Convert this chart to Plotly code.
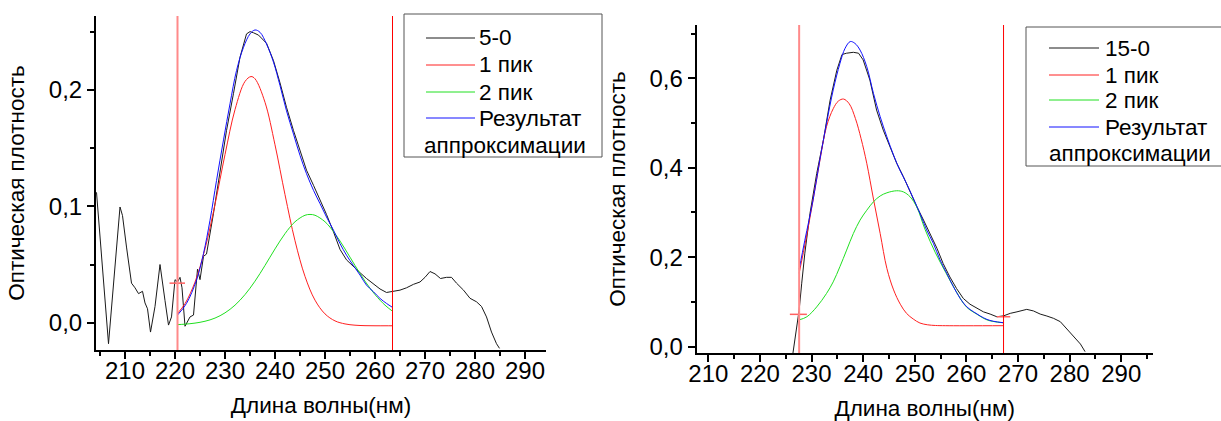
import plotly.graph_objects as go

FONT = "Arial, 'Liberation Sans', sans-serif"
W, H = 1221, 421
TICK_SIZE = 24
TEXT_SIZE = 22.5

# ---------------- sample 5-0 ----------------
wl_5 = [204.3, 206.7, 209.0, 209.5, 210.3, 211.3, 212.0, 212.7, 213.5, 214.0, 214.5, 215.1,
        216.0, 217.0, 218.0, 218.7, 219.3, 220.0, 220.5, 221.0, 221.4, 222.0, 223.0, 223.7,
        224.5, 225.0, 225.7, 226.3, 227.7, 229.0, 230.3, 231.7, 233.0, 234.3, 235.0, 235.7,
        236.7, 238.3, 239.7, 241.0, 242.3, 243.7, 245.0, 246.3, 247.7, 249.0, 250.3, 251.7,
        253.0, 254.3, 255.7, 257.0, 258.3, 259.7, 261.0, 262.3, 263.7, 265.0, 266.3, 267.7,
        269.0, 270.0, 271.0, 272.0, 273.1, 274.3, 275.3, 276.3, 277.7, 279.0, 280.3, 281.3,
        282.3, 283.3, 284.3, 284.9]
od_5 = [0.112, -0.018, 0.0994, 0.092, 0.065, 0.034, 0.030, 0.025, 0.027, 0.017, 0.012, -0.008,
        0.014, 0.050, 0.019, -0.002, 0.005, 0.037, 0.035, 0.039, 0.030, -0.003, 0.005, 0.0066,
        0.046, 0.037, 0.057, 0.059, 0.094, 0.131, 0.165, 0.197, 0.228, 0.248, 0.250, 0.249,
        0.247, 0.240, 0.225, 0.206, 0.185, 0.165, 0.147, 0.131, 0.118, 0.106, 0.093, 0.078,
        0.063, 0.054, 0.048, 0.043, 0.038, 0.033, 0.029, 0.026, 0.027, 0.028, 0.030, 0.033,
        0.035, 0.039, 0.044, 0.042, 0.038, 0.039, 0.039, 0.034, 0.028, 0.021, 0.018, 0.014,
        0.005, -0.008, -0.018, -0.022]

peak_wl_5 = [220.5, 222, 224, 226, 228, 230, 232, 234, 235.2, 236, 238, 240, 242, 244, 246,
             248, 250, 252, 254, 256, 258, 260, 262, 263.5]
peak1_5 = [0.0080, 0.0164, 0.0349, 0.0635, 0.1016, 0.1444, 0.1830, 0.2072, 0.2114, 0.2095,
           0.1893, 0.1528, 0.1100, 0.0704, 0.0398, 0.0194, 0.0076, 0.0016, -0.0010, -0.0021,
           -0.0025, -0.0026, -0.0026, -0.0026]

peak2_wl_5 = [220.5, 222, 224, 226, 228, 230, 232, 234, 236, 238, 240, 242, 244, 246, 247,
              248, 250, 252, 254, 256, 258, 260, 262, 263.5]
peak2_5 = [-0.0016, -0.0012, -0.0003, 0.0013, 0.0040, 0.0085, 0.0151, 0.0242, 0.0357, 0.0492,
           0.0634, 0.0765, 0.0867, 0.0923, 0.0930, 0.0923, 0.0867, 0.0765, 0.0634, 0.0492,
           0.0357, 0.0242, 0.0151, 0.0099]

fit_wl_5 = [220.5, 222.3, 224.3, 225.7, 227.0, 228.3, 229.7, 231.0, 232.3, 233.7, 235.0, 236.0,
            237.0, 238.3, 239.7, 241.0, 242.3, 243.7, 245.0, 246.3, 247.7, 249.0, 250.3, 251.7,
            253.0, 254.3, 255.7, 257.0, 258.3, 259.7, 261.0, 262.3, 263.5]
fit_5 = [0.0066, 0.0166, 0.0366, 0.0595, 0.088, 0.122, 0.157, 0.188, 0.2165, 0.2365, 0.248,
         0.2514, 0.2494, 0.2394, 0.2237, 0.2037, 0.182, 0.162, 0.1437, 0.128, 0.1137, 0.1023,
         0.0908, 0.0794, 0.068, 0.058, 0.049, 0.041, 0.0323, 0.0266, 0.0209, 0.0166, 0.0132]

fit_range_5 = [220.5, 263.5]

# ---------------- sample 15-0 ----------------
wl_15 = [226.4, 227.6, 228.1, 228.7, 229.7, 231.0, 232.3, 233.6, 234.9, 235.9, 236.8, 238.1,
         239.1, 240.0, 241.3, 242.6, 243.9, 245.2, 246.5, 247.8, 249.1, 250.4, 251.7, 253.0,
         254.3, 255.5, 256.8, 258.1, 259.4, 260.7, 262.0, 263.3, 264.6, 265.9, 267.2, 268.5,
         269.8, 271.7, 273.0, 274.3, 275.6, 276.9, 278.2, 279.1, 280.1, 281.1, 282.1, 283.0]
od_15 = [-0.014, 0.082, 0.142, 0.209, 0.298, 0.387, 0.462, 0.551, 0.618, 0.653, 0.656, 0.658,
         0.656, 0.641, 0.596, 0.529, 0.484, 0.447, 0.410, 0.380, 0.346, 0.313, 0.283, 0.253,
         0.220, 0.186, 0.156, 0.130, 0.108, 0.095, 0.086, 0.078, 0.073, 0.067, 0.069, 0.0746,
         0.078, 0.0835, 0.080, 0.073, 0.0686, 0.0634, 0.056, 0.0447, 0.030, 0.0188, 0.006, -0.011]

peak_wl_15 = [227.6, 229.0, 230.3, 231.6, 232.9, 234.2, 235.2, 236.2, 237.3, 238.5, 239.6, 240.7,
              242.0, 243.3, 244.6, 245.9, 247.2, 248.4, 249.7, 251.0, 252.5, 254.0, 256.0, 267.2]
peak1_15 = [0.164, 0.245, 0.328, 0.415, 0.492, 0.532, 0.549, 0.5535, 0.543, 0.51, 0.465, 0.41,
            0.33, 0.253, 0.175, 0.127, 0.095, 0.0746, 0.062, 0.053, 0.049, 0.0475, 0.047, 0.047]

peak2_wl_15 = [227.6, 229.1, 231.0, 232.9, 234.2, 235.5, 236.8, 238.1, 239.4, 240.7, 242.0, 243.3,
               244.6, 246.5, 247.8, 249.1, 250.4, 252.0, 254.0, 256.0, 258.0, 260.0, 262.0, 264.0,
               266.0, 267.2]
peak2_15 = [0.060, 0.067, 0.089, 0.119, 0.145, 0.179, 0.216, 0.253, 0.283, 0.305, 0.324, 0.337,
            0.344, 0.3486, 0.346, 0.335, 0.312, 0.262, 0.210, 0.166, 0.124, 0.089, 0.073, 0.060,
            0.055, 0.0536]

fit_wl_15 = [227.6, 228.7, 230.3, 231.6, 232.9, 234.2, 235.5, 236.5, 237.5, 238.4, 239.4, 240.7,
             242.0, 243.3, 244.6, 245.9, 247.1, 248.4, 249.7, 251.0, 252.3, 253.6, 254.9, 256.2,
             257.5, 258.8, 260.1, 261.4, 262.7, 264.0, 265.2, 267.2]
fit_15 = [0.173, 0.238, 0.328, 0.417, 0.499, 0.574, 0.633, 0.667, 0.682, 0.678, 0.663, 0.626,
          0.566, 0.514, 0.469, 0.428, 0.395, 0.365, 0.332, 0.298, 0.261, 0.231, 0.194, 0.164,
          0.134, 0.108, 0.089, 0.078, 0.0686, 0.061, 0.057, 0.0536]

fit_range_15 = [227.6, 267.2]

# fit-range cursor ticks
cursor_5 = ([218.9, 222.0], [0.034, 0.034])
cursor_15 = ([225.8, 229.1], [0.0724, 0.0724])
cursor_15r = ([265.9, 268.5], [0.067, 0.067])

x_ticks = [210, 220, 230, 240, 250, 260, 270, 280, 290]
x_minor = [205, 215, 225, 235, 245, 255, 265, 275, 285, 295]
y_ticks_5 = [0.0, 0.1, 0.2]
y_text_5 = ["0,0", "0,1", "0,2"]
y_minor_5 = [0.05, 0.15, 0.25]
y_ticks_15 = [0.0, 0.2, 0.4, 0.6]
y_text_15 = ["0,0", "0,2", "0,4", "0,6"]
y_minor_15 = [0.1, 0.3, 0.5, 0.7]

legend_5 = ["5-0", "1 пик", "2 пик", "Результат"]
legend_15 = ["15-0", "1 пик", "2 пик", "Результат"]
legend_tail = "аппроксимации"

C_DATA, C_P1, C_P2, C_FIT = "#1a1a1a", "#ff2020", "#20e020", "#1010ff"
LEGEND_COLORS = [C_DATA, C_P1, C_P2, C_FIT]

fig = go.Figure()


def add_panel(xa, ya, wl, od, pw, p1, p2w, p2, fw, fit, cursors):
    fig.add_trace(go.Scatter(x=wl, y=od, mode="lines", line=dict(color=C_DATA, width=1),
                             xaxis=xa, yaxis=ya, showlegend=False))
    for cx, cy in cursors:
        fig.add_trace(go.Scatter(x=cx, y=cy, mode="lines", line=dict(color="#ff6060", width=1.5),
                                 xaxis=xa, yaxis=ya, showlegend=False))
    fig.add_trace(go.Scatter(x=pw, y=p1, mode="lines", line=dict(color=C_P1, width=1, shape="spline"),
                             xaxis=xa, yaxis=ya, showlegend=False))
    fig.add_trace(go.Scatter(x=p2w, y=p2, mode="lines", line=dict(color=C_P2, width=1, shape="spline"),
                             xaxis=xa, yaxis=ya, showlegend=False))
    fig.add_trace(go.Scatter(x=fw, y=fit, mode="lines", line=dict(color=C_FIT, width=1, shape="spline"),
                             xaxis=xa, yaxis=ya, showlegend=False))


add_panel("x", "y", wl_5, od_5, peak_wl_5, peak1_5, peak2_wl_5, peak2_5, fit_wl_5, fit_5,
          [cursor_5])
add_panel("x2", "y2", wl_15, od_15, peak_wl_15, peak1_15, peak2_wl_15, peak2_15, fit_wl_15, fit_15,
          [cursor_15, cursor_15r])

# fit range boundaries
shapes = []
for xr, yr, rng in (("x", "y domain", fit_range_5), ("x2", "y2 domain", fit_range_15)):
    shapes.append(dict(type="line", xref=xr, yref=yr, x0=rng[0], x1=rng[0], y0=0, y1=1,
                       line=dict(color="#ff8a8a", width=2)))
    shapes.append(dict(type="line", xref=xr, yref=yr, x0=rng[1], x1=rng[1], y0=0, y1=1,
                       line=dict(color="#ff0000", width=1)))

annotations = []


def px(x):
    return x / W


def py(y):
    return 1 - y / H


def add_legend(box, line_x, text_x, rows, labels, tail_xy):
    x0, y0, x1, y1 = box
    shapes.append(dict(type="rect", xref="paper", yref="paper", x0=px(x0), x1=px(x1),
                       y0=py(y1), y1=py(y0), line=dict(color="#555555", width=1),
                       fillcolor="rgba(0,0,0,0)"))
    for lab, yy, col in zip(labels, rows, LEGEND_COLORS):
        shapes.append(dict(type="line", xref="paper", yref="paper", x0=px(line_x[0]),
                           x1=px(line_x[1]), y0=py(yy), y1=py(yy), line=dict(color=col, width=1)))
        annotations.append(dict(xref="paper", yref="paper", x=px(text_x), y=py(yy), text=lab,
                                showarrow=False, xanchor="left", yanchor="middle",
                                font=dict(family=FONT, size=TEXT_SIZE, color="black")))
    annotations.append(dict(xref="paper", yref="paper", x=px(tail_xy[0]), y=py(tail_xy[1]),
                            text=legend_tail, showarrow=False, xanchor="left", yanchor="middle",
                            font=dict(family=FONT, size=TEXT_SIZE, color="black")))


add_legend((404, 14, 602, 157), (426, 475), 477, [38, 65, 92, 118], legend_5, (422, 145))
add_legend((1026, 27, 1232, 166), (1049, 1099), 1103, [48, 75, 100, 127], legend_15, (1047, 153))

axis_common = dict(showline=True, linecolor="black", linewidth=2, ticks="outside", ticklen=7,
                   tickwidth=1.5, tickcolor="black", showgrid=False, zeroline=False,
                   automargin=False,
                   tickfont=dict(family=FONT, size=TICK_SIZE, color="black"), tickmode="array")
xaxis_extra = dict(ticklabelstandoff=-9)
title_font = dict(family=FONT, size=TEXT_SIZE, color="black")

fig.update_layout(
    width=W, height=H, margin=dict(l=0, r=0, t=0, b=0),
    paper_bgcolor="white", plot_bgcolor="white", showlegend=False,
    xaxis=dict(axis_common, **xaxis_extra, domain=[96 / W, 546 / W], range=[204.2, 294.2],
               anchor="y", tickvals=x_ticks, ticktext=[str(v) for v in x_ticks],
               minor=dict(tickvals=x_minor, ticks="outside", ticklen=4, tickcolor="black"),
               title=dict(text="Длина волны(нм)", font=title_font, standoff=14)),
    yaxis=dict(axis_common, domain=[1 - 350 / H, 1 - 16 / H], range=[-0.0234, 0.2634], anchor="x",
               tickvals=y_ticks_5, ticktext=y_text_5,
               minor=dict(tickvals=y_minor_5, ticks="outside", ticklen=4, tickcolor="black"),
               title=dict(text="Оптическая плотность", font=title_font, standoff=18)),
    xaxis2=dict(axis_common, **xaxis_extra, domain=[696.7 / W, 1152.7 / W], range=[207.75, 296.1],
                anchor="y2", tickvals=x_ticks, ticktext=[str(v) for v in x_ticks],
                minor=dict(tickvals=x_minor, ticks="outside", ticklen=4, tickcolor="black"),
                title=dict(text="Длина волны(нм)", font=title_font, standoff=14)),
    yaxis2=dict(axis_common, domain=[1 - 353 / H, 1 - 25 / H], range=[-0.014, 0.719], anchor="x2",
                tickvals=y_ticks_15, ticktext=y_text_15,
                minor=dict(tickvals=y_minor_15, ticks="outside", ticklen=4, tickcolor="black"),
                title=dict(text="Оптическая плотность", font=title_font, standoff=18)),
    shapes=shapes, annotations=annotations,
)

fig.write_html("out.html")
